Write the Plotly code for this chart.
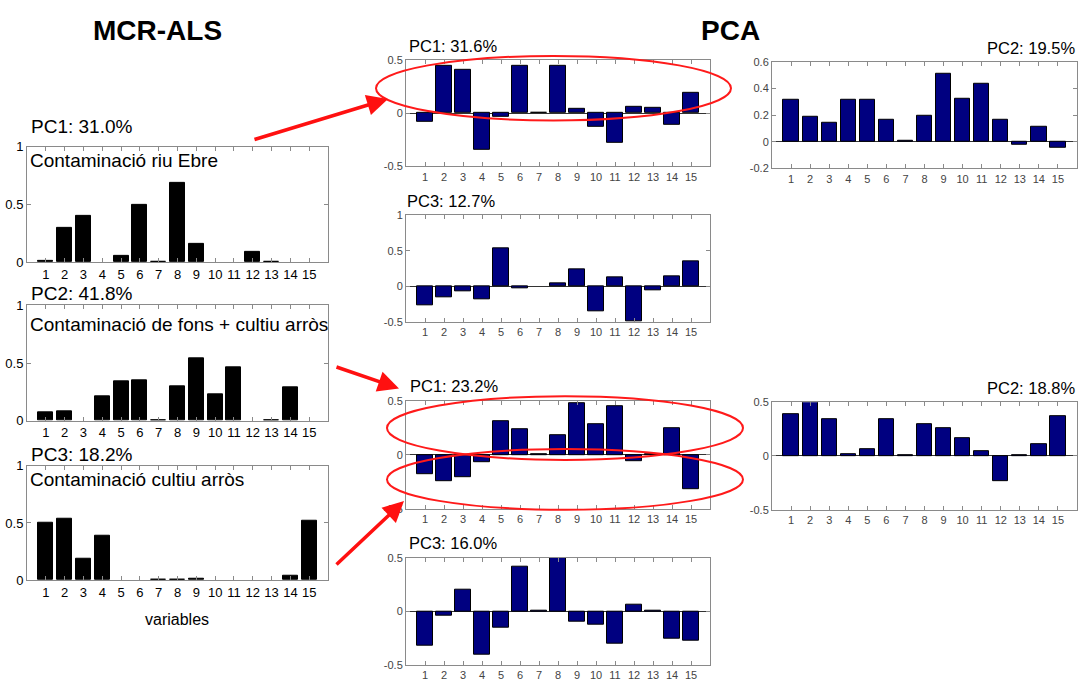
import plotly.graph_objects as go

# ---------------- data ----------------
variables = list(range(1, 16))

# MCR-ALS resolved profiles
mcr_c1 = [0.01, 0.30, 0.40, 0.0, 0.056, 0.50, 0.008, 0.69, 0.16, 0.0, 0.0, 0.09, 0.008, 0.0, 0.0]
mcr_c2 = [0.076, 0.085, 0.0, 0.21, 0.34, 0.35, 0.005, 0.30, 0.54, 0.23, 0.46, 0.0, 0.005, 0.29, 0.0]
mcr_c3 = [0.50, 0.54, 0.19, 0.39, 0.0, 0.0, 0.005, 0.005, 0.015, 0.0, 0.0, 0.0, 0.0, 0.035, 0.52]
mcr_titles = ["PC1: 31.0%", "PC2: 41.8%", "PC3: 18.2%"]
mcr_labels = ["Contaminació riu Ebre", "Contaminació de fons + cultiu arròs",
              "Contaminació cultiu arròs"]

# PCA loadings, first data set
pca_a_pc1 = [-0.077, 0.44, 0.41, -0.34, -0.037, 0.44, 0.005, 0.445, 0.04, -0.13, -0.28, 0.058, 0.052, -0.107, 0.19]
pca_a_pc2 = [0.317, 0.188, 0.139, 0.312, 0.317, 0.168, 0.004, 0.193, 0.51, 0.322, 0.437, 0.168, -0.02, 0.115, -0.044]
pca_a_pc3 = [-0.26, -0.16, -0.065, -0.18, 0.54, -0.03, 0.0, 0.037, 0.244, -0.345, 0.134, -0.49, -0.055, 0.143, 0.35]
pca_a_titles = ["PC1: 31.6%", "PC2: 19.5%", "PC3: 12.7%"]

# PCA loadings, second data set
pca_b_pc1 = [-0.18, -0.24, -0.21, -0.067, 0.31, 0.24, 0.005, 0.18, 0.48, 0.29, 0.45, -0.06, 0.003, 0.25, -0.32]
pca_b_pc2 = [0.39, 0.50, 0.34, 0.018, 0.064, 0.34, 0.004, 0.30, 0.26, 0.17, 0.045, -0.233, 0.004, 0.11, 0.367]
pca_b_pc3 = [-0.32, -0.037, 0.207, -0.406, -0.152, 0.418, 0.005, 0.50, -0.095, -0.12, -0.295, 0.067, 0.004, -0.25, -0.27]
pca_b_titles = ["PC1: 23.2%", "PC2: 18.8%", "PC3: 16.0%"]

# ---------------- layout helpers ----------------
W, H = 1081, 686


def px(x):
    return x / W


def py(y):
    return 1 - y / H


fig = go.Figure()

# each panel: values, box (left, right, top, bottom) in px, y range, y ticks, colour, tick style
panels = [
    dict(v=mcr_c1, box=(27, 328, 143, 261), yr=[0, 1], yt=[0, 0.5, 1], c="black", mcr=True),
    dict(v=mcr_c2, box=(27, 328, 305, 423), yr=[0, 1], yt=[0, 0.5, 1], c="black", mcr=True),
    dict(v=mcr_c3, box=(27, 328, 469, 586), yr=[0, 1], yt=[0, 0.5, 1], c="black", mcr=True),
    dict(v=pca_a_pc1, box=(406, 710, 54, 163), yr=[-0.5, 0.5], yt=[-0.5, 0, 0.5], c="#000080", mcr=False),
    dict(v=pca_a_pc2, box=(772, 1077, 56, 165), yr=[-0.2, 0.6], yt=[-0.2, 0, 0.2, 0.4, 0.6], c="#000080", mcr=False),
    dict(v=pca_a_pc3, box=(406, 710, 213, 322), yr=[-0.5, 1], yt=[-0.5, 0, 0.5, 1], c="#000080", mcr=False),
    dict(v=pca_b_pc1, box=(406, 710, 403, 513), yr=[-0.5, 0.5], yt=[-0.5, 0, 0.5], c="#000080", mcr=False),
    dict(v=pca_b_pc2, box=(772, 1077, 404, 514), yr=[-0.5, 0.5], yt=[-0.5, 0, 0.5], c="#000080", mcr=False),
    dict(v=pca_b_pc3, box=(406, 710, 563, 673), yr=[-0.5, 0.5], yt=[-0.5, 0, 0.5], c="#000080", mcr=False),
]


def fmt(t):
    if t == 0:
        return "0"
    if float(t).is_integer():
        return str(int(t))
    return ("%g" % t)


for i, p in enumerate(panels, start=1):
    xa = "x" if i == 1 else f"x{i}"
    ya = "y" if i == 1 else f"y{i}"
    # exact zeros draw no bar at all
    yvals = [v if v != 0 else None for v in p["v"]]
    fig.add_trace(go.Bar(
        x=variables, y=yvals, width=0.8,
        marker=dict(color=p["c"], line=dict(color="black", width=1)),
        xaxis=xa, yaxis=ya, showlegend=False, hoverinfo="x+y",
    ))
    l, r, t, b = p["box"]
    tick_font = dict(family="Liberation Sans, Arial, sans-serif",
                     size=13 if p["mcr"] else 11,
                     color="black" if p["mcr"] else "#444444")
    common = dict(showline=True, linecolor="#8a8a8a", linewidth=1, mirror="ticks",
                  ticks="inside", ticklen=4, tickcolor="#8a8a8a", tickwidth=1,
                  showgrid=False, tickfont=tick_font, fixedrange=True)
    fig.layout[f"xaxis{'' if i == 1 else i}"] = dict(
        domain=[px(l), px(r)], anchor=ya, range=[0, 16],
        tickmode="array", tickvals=variables, ticktext=[str(v) for v in variables],
        zeroline=False, **common)
    fig.layout[f"yaxis{'' if i == 1 else i}"] = dict(
        domain=[py(b), py(t)], anchor=xa, range=p["yr"],
        tickmode="array", tickvals=p["yt"], ticktext=[fmt(v) for v in p["yt"]],
        zeroline=not p["mcr"], zerolinecolor="#333333", zerolinewidth=1, **common)

annotations = []
font_title = dict(family="Liberation Sans, Arial, sans-serif", color="black")

# headings
annotations.append(dict(x=px(157), y=py(24), text="<b>MCR-ALS</b>", showarrow=False,
                        xref="paper", yref="paper", xanchor="center", yanchor="middle",
                        font=dict(size=28, **font_title)))
annotations.append(dict(x=px(730), y=py(24), text="<b>PCA</b>", showarrow=False,
                        xref="paper", yref="paper", xanchor="center", yanchor="middle",
                        font=dict(size=28, **font_title)))

# MCR-ALS titles and component labels
for title, label, ty, ly in zip(mcr_titles, mcr_labels, [122, 293, 458], [157, 325, 483]):
    annotations.append(dict(x=px(29), y=py(ty), text=title, showarrow=False,
                            xref="paper", yref="paper", xanchor="left", yanchor="middle",
                            font=dict(size=19, **font_title)))
    annotations.append(dict(x=px(28), y=py(ly), text=label, showarrow=False,
                            xref="paper", yref="paper", xanchor="left", yanchor="middle",
                            font=dict(size=19, **font_title)))

annotations.append(dict(x=px(177), y=py(626), text="variables", showarrow=False,
                        xref="paper", yref="paper", xanchor="center", yanchor="middle",
                        font=dict(size=16, **font_title)))

# PCA titles
pca_title_pos = [
    (pca_a_titles[0], 407, 40, "left"),
    (pca_a_titles[1], 1077, 42, "right"),
    (pca_a_titles[2], 405, 198, "left"),
    (pca_b_titles[0], 408, 387, "left"),
    (pca_b_titles[1], 1077, 390, "right"),
    (pca_b_titles[2], 407, 548, "left"),
]
for text, x, y, anc in pca_title_pos:
    annotations.append(dict(x=px(x), y=py(y), text=text, showarrow=False,
                            xref="paper", yref="paper", xanchor=anc, yanchor="middle",
                            font=dict(size=16.5, **font_title)))

# red arrows linking MCR-ALS components to PCA loadings: (tail, head)
arrows = [((253, 135), (388, 94)), ((335, 368), (399, 390)), ((335, 570), (404, 505))]
for (tx, ty), (hx, hy) in arrows:
    annotations.append(dict(x=px(hx), y=py(hy), xref="paper", yref="paper",
                            ax=tx - hx, ay=ty - hy, axref="pixel", ayref="pixel",
                            showarrow=True, arrowhead=2, arrowsize=1.2, arrowwidth=3.5,
                            arrowcolor="#ff1010", text=""))

# red ellipses around loadings groups
ellipses = [(376, 731, 50, 116), (387, 743, 398, 463), (387, 743, 452, 514)]
shapes = []
for x0, x1, y0, y1 in ellipses:
    shapes.append(dict(type="circle", xref="paper", yref="paper",
                       x0=px(x0), x1=px(x1), y0=py(y1), y1=py(y0),
                       line=dict(color="#ff1a1a", width=2)))

fig.update_layout(
    width=W, height=H, margin=dict(l=0, r=0, t=0, b=0),
    paper_bgcolor="white", plot_bgcolor="white",
    annotations=annotations, shapes=shapes, bargap=0,
    font=dict(family="Liberation Sans, Arial, sans-serif"),
)

fig.write_html("out.html", config={"displayModeBar": False})
